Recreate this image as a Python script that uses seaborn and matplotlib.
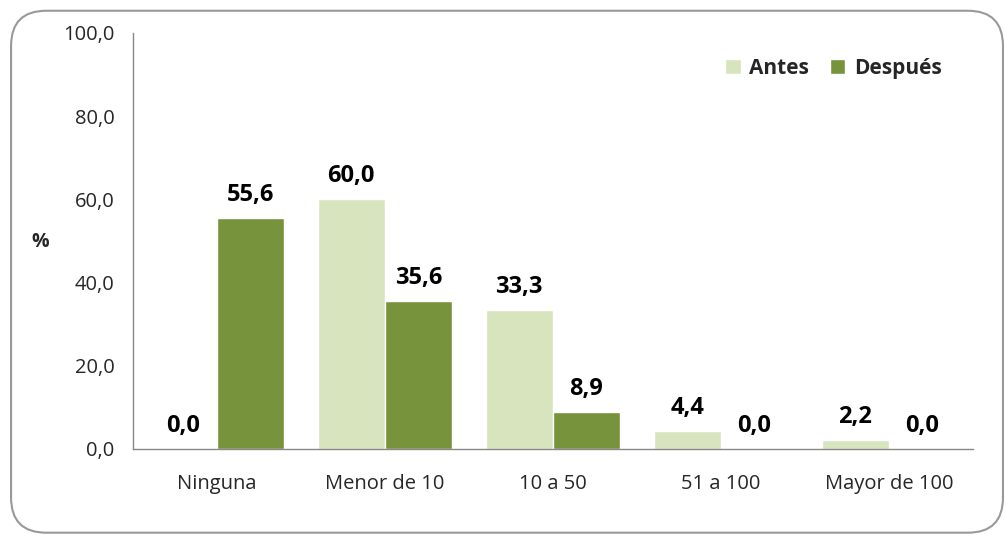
import pandas as pd
import numpy as np
import seaborn as sns
import matplotlib.pyplot as plt
from matplotlib.patches import FancyBboxPatch

# datos
categorias = ['Ninguna', 'Menor de 10', '10 a 50', '51 a 100', 'Mayor de 100']
antes = [0.0, 60.0, 33.3, 4.4, 2.2]
despues = [55.6, 35.6, 8.9, 0.0, 0.0]
series = ['Antes', 'Después']
colores = ['#D7E4BD', '#77933C']

df = pd.DataFrame({
    'categoria': categorias * 2,
    'valor': antes + despues,
    'serie': [series[0]] * len(categorias) + [series[1]] * len(categorias),
})

sns.set_style('white')
plt.rcParams['font.family'] = ['Open Sans', 'DejaVu Sans']

fig = plt.figure(figsize=(10.06, 5.37), dpi=100)
ax = fig.add_axes([0.132, 0.164, 0.835, 0.7747])

sns.barplot(data=df, x='categoria', y='valor', hue='serie', palette=colores,
            order=categorias, hue_order=series, width=0.8, saturation=1,
            ax=ax, legend=True)

# etiquetas de datos
for cont in ax.containers:
    ax.bar_label(cont, labels=[f'{v:.1f}'.replace('.', ',') for v in cont.datavalues],
                 padding=8, fontsize=17, fontweight='bold', color='black')

ax.set_ylim(0, 100)
ax.set_xlim(-0.5, len(categorias) - 0.5)
yt = np.arange(0, 101, 20)
ax.set_yticks(yt)
ax.set_yticklabels([f'{t:.1f}'.replace('.', ',') for t in yt])
ax.tick_params(axis='y', length=5, color='#888888', labelsize=14.5, pad=8)
ax.tick_params(axis='x', length=0, labelsize=14.5, pad=18)
ax.set_xlabel('')
ax.set_ylabel('')
fig.text(0.04, 1 - 242 / 537, '%', fontsize=14, fontweight='bold', va='center', ha='center')

for s in ['top', 'right']:
    ax.spines[s].set_visible(False)
for s in ['left', 'bottom']:
    ax.spines[s].set_color('#888888')
    ax.spines[s].set_linewidth(1)

leg = ax.legend(loc='upper right', bbox_to_anchor=(0.985, 0.985), frameon=False,
                ncol=2, fontsize=15, handlelength=0.75, handleheight=0.75,
                handletextpad=0.4, columnspacing=1.0)
for t in leg.get_texts():
    t.set_fontweight('bold')

# marco redondeado
marco = FancyBboxPatch((0.011, 0.008), 0.986, 0.972, boxstyle='round,pad=0,rounding_size=0.035',
                       transform=fig.transFigure, fill=False, edgecolor='#999999',
                       linewidth=1.5, mutation_aspect=1006 / 537)
fig.patches.append(marco)

plt.savefig('out.png', dpi=100)
